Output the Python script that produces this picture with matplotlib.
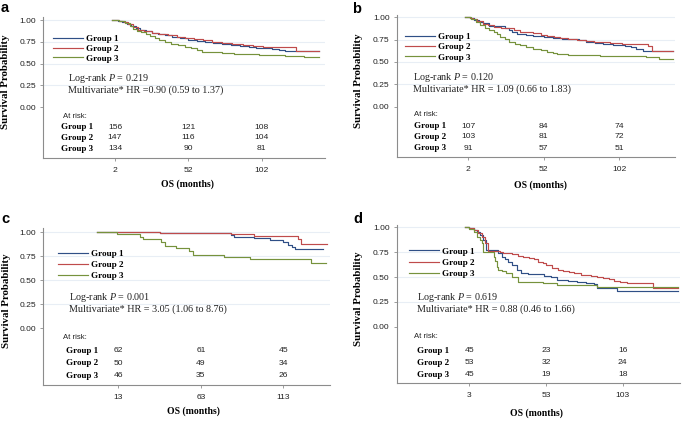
import matplotlib
matplotlib.use('Agg')
import matplotlib.pyplot as plt

plt.rcParams['font.family'] = ['Liberation Sans', 'DejaVu Sans']
plt.rcParams['mathtext.fontset'] = 'custom'
plt.rcParams['mathtext.rm'] = 'Liberation Serif'
plt.rcParams['mathtext.it'] = 'Liberation Serif:italic'

groups = ['Group 1', 'Group 2', 'Group 3']
colors = ['#2f4f86', '#bf4b4b', '#76923c']

# ---------------- panel a ----------------
a_ticks = [2, 52, 102]
a_g1_t = [0, 4, 7, 10, 13, 16, 19, 23, 27, 31, 36, 41, 46, 52, 58, 63, 69, 75, 81, 87, 93, 98, 104, 109, 114, 118, 121, 141]
a_g1_s = [1.0, 0.99, 0.975, 0.955, 0.93, 0.905, 0.885, 0.87, 0.855, 0.84, 0.825, 0.805, 0.79, 0.775, 0.76, 0.745, 0.735, 0.72, 0.71, 0.70, 0.69, 0.68, 0.675, 0.665, 0.655, 0.645, 0.64, 0.64]
a_g2_t = [0, 5, 8, 11, 14, 18, 22, 27, 32, 38, 44, 50, 56, 62, 68, 75, 82, 89, 96, 103, 110, 117, 125, 141]
a_g2_s = [1.0, 0.99, 0.975, 0.95, 0.925, 0.89, 0.87, 0.855, 0.84, 0.825, 0.81, 0.795, 0.78, 0.765, 0.75, 0.74, 0.725, 0.715, 0.70, 0.695, 0.69, 0.685, 0.645, 0.645]
a_g3_t = [0, 5, 9, 12, 14, 17, 20, 23, 26, 29, 32, 36, 40, 45, 50, 54, 58, 61, 68, 75, 83, 91, 100, 109, 118, 126, 131, 141]
a_g3_s = [1.0, 0.99, 0.97, 0.93, 0.90, 0.878, 0.86, 0.845, 0.82, 0.79, 0.765, 0.75, 0.73, 0.712, 0.69, 0.674, 0.655, 0.636, 0.628, 0.623, 0.615, 0.609, 0.603, 0.598, 0.592, 0.585, 0.57, 0.57]
a_risk_g1 = [156, 121, 108]
a_risk_g2 = [147, 116, 104]
a_risk_g3 = [134, 90, 81]
a_logrank = 'Log-rank $P$ = 0.219'
a_hr = 'Multivariate* HR =0.90 (0.59 to 1.37)'

# ---------------- panel b ----------------
b_ticks = [2, 52, 102]
b_g1_t = [0, 3, 6, 9, 12, 16, 26, 29, 31, 34, 40, 45, 52, 58, 64, 69, 75, 80, 86, 91, 98, 106, 110, 113, 118, 137.5]
b_g1_s = [1.0, 0.99, 0.965, 0.945, 0.93, 0.905, 0.885, 0.86, 0.835, 0.81, 0.80, 0.795, 0.78, 0.765, 0.76, 0.753, 0.74, 0.727, 0.715, 0.70, 0.69, 0.68, 0.665, 0.65, 0.625, 0.625]
b_g2_t = [0, 3, 5, 8, 12, 15, 19, 24, 28, 32, 36, 41, 45, 50, 54, 59, 63, 68, 74, 80, 85, 91, 96, 104, 111, 121, 123.5, 137.5]
b_g2_s = [1.0, 0.99, 0.978, 0.955, 0.925, 0.91, 0.895, 0.885, 0.876, 0.86, 0.84, 0.83, 0.82, 0.805, 0.79, 0.775, 0.764, 0.755, 0.745, 0.735, 0.727, 0.718, 0.708, 0.70, 0.696, 0.678, 0.625, 0.625]
b_g3_t = [0, 4, 7, 10, 13, 16, 19, 21, 23, 26, 29, 33, 36, 40, 45, 50, 54, 58, 61, 68, 75, 89, 105, 120, 128, 137.5]
b_g3_s = [1.0, 0.98, 0.95, 0.91, 0.876, 0.86, 0.84, 0.81, 0.78, 0.755, 0.727, 0.705, 0.69, 0.67, 0.65, 0.63, 0.614, 0.60, 0.584, 0.58, 0.577, 0.566, 0.562, 0.558, 0.528, 0.528]
b_risk_g1 = [107, 84, 74]
b_risk_g2 = [103, 81, 72]
b_risk_g3 = [91, 57, 51]
b_logrank = 'Log-rank $P$ = 0.120'
b_hr = 'Multivariate* HR = 1.09 (0.66 to 1.83)'

# ---------------- panel c ----------------
c_ticks = [13, 63, 113]
c_g1_t = [0, 38, 81, 83, 95, 105, 113, 116, 118, 120, 137]
c_g1_s = [1.0, 0.99, 0.972, 0.955, 0.937, 0.92, 0.896, 0.868, 0.844, 0.823, 0.823]
c_g2_t = [0, 38, 81, 95, 122, 124, 139.5]
c_g2_s = [1.0, 0.99, 0.98, 0.965, 0.93, 0.878, 0.878]
c_g3_t = [0, 12, 26, 28, 39, 41, 48, 56, 58, 77, 93, 130, 139]
c_g3_s = [1.0, 0.983, 0.955, 0.93, 0.902, 0.86, 0.833, 0.805, 0.764, 0.74, 0.718, 0.683, 0.683]
c_risk_g1 = [62, 61, 45]
c_risk_g2 = [50, 49, 34]
c_risk_g3 = [46, 35, 26]
c_logrank = 'Log-rank $P$ = 0.001'
c_hr = 'Multivariate* HR = 3.05 (1.06 to 8.76)'

# ---------------- panel d ----------------
d_ticks = [3, 53, 103]
d_g1_t = [0, 3, 6, 8, 10, 12, 14, 22, 24, 26, 28, 31, 34, 37, 41, 47, 52, 56, 60, 67, 73, 79, 84, 86, 99, 139]
d_g1_s = [1.0, 0.99, 0.975, 0.955, 0.92, 0.87, 0.767, 0.74, 0.704, 0.68, 0.654, 0.62, 0.57, 0.536, 0.53, 0.526, 0.51, 0.496, 0.469, 0.46, 0.453, 0.44, 0.426, 0.386, 0.363, 0.363]
d_g2_t = [0, 3, 6, 9, 11, 13, 15, 23, 25, 31, 35, 38, 42, 45, 48, 51, 53, 57, 61, 64, 68, 71, 76, 82, 86, 90, 94, 97, 101, 106, 123, 139]
d_g2_s = [1.0, 0.99, 0.97, 0.94, 0.9, 0.84, 0.764, 0.754, 0.737, 0.727, 0.715, 0.704, 0.69, 0.677, 0.654, 0.64, 0.62, 0.594, 0.575, 0.56, 0.548, 0.536, 0.52, 0.509, 0.497, 0.486, 0.475, 0.463, 0.452, 0.443, 0.386, 0.386]
d_g3_t = [0, 3, 6, 8, 10, 11, 12, 19, 20, 21, 22, 24, 27, 31, 35, 51, 60, 86, 139]
d_g3_s = [1.0, 0.98, 0.955, 0.905, 0.87, 0.838, 0.754, 0.704, 0.66, 0.603, 0.575, 0.563, 0.536, 0.503, 0.452, 0.435, 0.419, 0.402, 0.402]
d_risk_g1 = [45, 23, 16]
d_risk_g2 = [53, 32, 24]
d_risk_g3 = [45, 19, 18]
d_logrank = 'Log-rank $P$ = 0.619'
d_hr = 'Multivariate* HR = 0.88 (0.46 to 1.66)'

y_ticks = [0.0, 0.25, 0.5, 0.75, 1.0]
y_ticklabels = ['0.00', '0.25', '0.50', '0.75', '1.00']

panels = [
    dict(letter='a', ticks=a_ticks,
         curves=[(a_g1_t, a_g1_s), (a_g2_t, a_g2_s), (a_g3_t, a_g3_s)],
         risk=[a_risk_g1, a_risk_g2, a_risk_g3], stats=[a_logrank, a_hr],
         rect=(0.0628, 0.6256, 0.4117, 0.3348), xlim=(-47, 145), ylim=(-0.586, 1.038),
         leg=(0.035, 0.872), stat=(0.089, 0.566, 0.481), atrisk=(0.071, 0.297),
         grp_x=0.064, rows=(0.219, 0.142, 0.064), xlab=(0.512, -0.153),
         ylab=(-0.118, 0.538), letter_px=(1, 12), lspace=0.14),
    dict(letter='b', ticks=b_ticks,
         curves=[(b_g1_t, b_g1_s), (b_g2_t, b_g2_s), (b_g3_t, b_g3_s)],
         risk=[b_risk_g1, b_risk_g2, b_risk_g3], stats=[b_logrank, b_hr],
         rect=(0.5791, 0.628, 0.4063, 0.3365), xlim=(-45.4, 138.9), ylim=(-0.563, 1.025),
         leg=(0.03, 0.876), stat=(0.0575, 0.561, 0.477), atrisk=(0.0625, 0.296),
         grp_x=0.0625, rows=(0.218, 0.143, 0.061), xlab=(0.515, -0.164),
         ylab=(-0.121, 0.537), letter_px=(351.7, 13.3), lspace=0.2),
    dict(letter='c', ticks=c_ticks,
         curves=[(c_g1_t, c_g1_s), (c_g2_t, c_g2_s), (c_g3_t, c_g3_s)],
         risk=[c_risk_g1, c_risk_g2, c_risk_g3], stats=[c_logrank, c_hr],
         rect=(0.0632, 0.0877, 0.4185, 0.372), xlim=(-32.5, 141.3), ylim=(-0.59, 1.045),
         leg=(0.051, 0.864), stat=(0.0896, 0.559, 0.482), atrisk=(0.069, 0.304),
         grp_x=0.079, rows=(0.218, 0.138, 0.059), xlab=(0.523, -0.136),
         ylab=(-0.114, 0.536), letter_px=(1.7, 223.3), lspace=0.32),
    dict(letter='d', ticks=d_ticks,
         curves=[(d_g1_t, d_g1_s), (d_g2_t, d_g2_s), (d_g3_t, d_g3_s)],
         risk=[d_risk_g1, d_risk_g2, d_risk_g3], stats=[d_logrank, d_hr],
         rect=(0.5791, 0.0917, 0.4136, 0.375), xlim=(-44.3, 140.3), ylim=(-0.57, 1.023),
         leg=(0.044, 0.860), stat=(0.073, 0.543, 0.469), atrisk=(0.061, 0.294),
         grp_x=0.073, rows=(0.206, 0.131, 0.054), xlab=(0.494, -0.156),
         ylab=(-0.119, 0.533), letter_px=(353, 222.7), lspace=0.3),
]

W, H = 685, 422
fig = plt.figure(figsize=(W / 100, H / 100), dpi=100)

serif = 'Liberation Serif'
sans = 'Liberation Sans'
spine_col = '#8c8c8c'

for p in panels:
    ax = fig.add_axes(p['rect'])
    for (t, s), name, col in zip(p['curves'], groups, colors):
        ax.step(t, s, where='post', color=col, lw=0.85, label=name)
    ax.set_xlim(*p['xlim'])
    ax.set_ylim(*p['ylim'])
    ax.set_yticks(y_ticks)
    ax.set_yticklabels(y_ticklabels)
    ax.set_xticks(p['ticks'])
    ax.set_xticklabels([str(v) for v in p['ticks']])
    for side in ('top', 'right'):
        ax.spines[side].set_visible(False)
    for side in ('left', 'bottom'):
        ax.spines[side].set_color(spine_col)
        ax.spines[side].set_linewidth(0.8)
    ax.tick_params(axis='both', length=2.5, width=0.6, color=spine_col,
                   labelsize=6.1, labelcolor='#222222')
    ax.tick_params(axis='y', pad=2.5)
    ax.tick_params(axis='x', pad=4)
    ax.yaxis.grid(True, color='#e8eef5', lw=0.8)
    ax.set_axisbelow(True)
    ax.yaxis.get_gridlines()[0].set_visible(False)

    ax.set_ylabel('Survival Probability', fontfamily=serif, fontweight='bold', fontsize=7.8)
    ax.yaxis.set_label_coords(*p['ylab'])
    ax.set_xlabel('OS (months)', fontfamily=serif, fontweight='bold', fontsize=7)
    ax.xaxis.set_label_coords(*p['xlab'])

    ax.legend(loc='upper left', bbox_to_anchor=p['leg'], frameon=False,
              prop=dict(family=serif, weight='bold', size=6.6),
              handlelength=3.3, handletextpad=0.3, labelspacing=p['lspace'],
              borderpad=0, borderaxespad=0)

    sx, sy1, sy2 = p['stat']
    ax.text(sx, sy1, p['stats'][0], transform=ax.transAxes, ha='left', va='center',
            fontfamily=serif, fontsize=7.3, color='#222222')
    ax.text(sx, sy2, p['stats'][1], transform=ax.transAxes, ha='left', va='center',
            fontfamily=serif, fontsize=7.3, color='#222222')

    ax.text(p['atrisk'][0], p['atrisk'][1], 'At risk:', transform=ax.transAxes,
            ha='left', va='center', fontsize=5.6, fontfamily=sans, color='#222222')
    xt = ax.get_xaxis_transform()
    for name, counts, ry in zip(groups, p['risk'], p['rows']):
        ax.text(p['grp_x'], ry, name, transform=ax.transAxes, ha='left', va='center',
                fontfamily=serif, fontweight='bold', fontsize=6.5)
        for tick, n in zip(p['ticks'], counts):
            ax.text(tick, ry, str(n), transform=xt, ha='center', va='center',
                    fontsize=6.1, fontfamily=sans, color='#222222')

    lx, ly = p['letter_px']
    fig.text(lx / W, 1 - ly / H, p['letter'], ha='left', va='baseline',
             fontsize=10.5, fontweight='bold', fontfamily=sans)

fig.savefig('out.png', dpi=100)
